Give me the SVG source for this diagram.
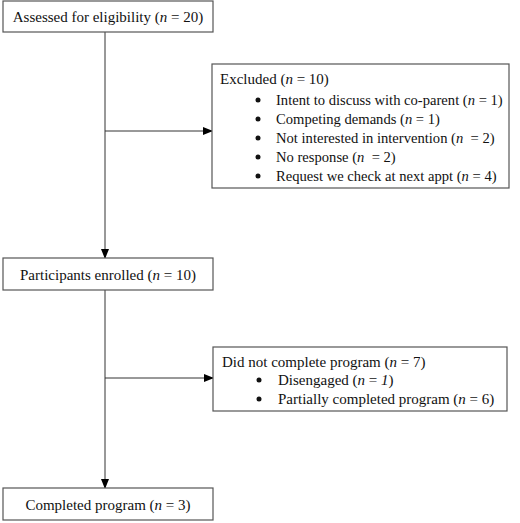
<svg xmlns="http://www.w3.org/2000/svg" width="520" height="523" viewBox="0 0 520 523">
<defs>
<marker id="ah" markerWidth="10" markerHeight="8" refX="9" refY="4" orient="auto" markerUnits="userSpaceOnUse">
<path d="M0,0 L10,4 L0,8 Z" fill="#000"/>
</marker>
<style>
.box{fill:#fff;stroke:#555;stroke-width:1.2}
.t{font-family:"Liberation Serif","Times New Roman",serif;font-size:15px;fill:#111}
.s{font-size:14.6px}
.c{text-anchor:middle}
.ln{stroke:#333;stroke-width:1;fill:none}
.b{fill:#111}
</style>
</defs>
<rect width="520" height="523" fill="#fff"/>
<g id="connectors">
<line class="ln" x1="105" y1="32" x2="105" y2="258" marker-end="url(#ah)"/>
<line class="ln" x1="105" y1="131" x2="212" y2="131" marker-end="url(#ah)"/>
<line class="ln" x1="105" y1="290" x2="105" y2="488" marker-end="url(#ah)"/>
<line class="ln" x1="105" y1="378" x2="213" y2="378" marker-end="url(#ah)"/>
</g>
<g id="assessed">
<rect class="box" x="3" y="1" width="210" height="31"/>
<text class="t c" x="108" y="22">Assessed for eligibility (<tspan font-style="italic">n</tspan> = 20)</text>
</g>
<g id="excluded">
<rect class="box" x="212" y="64" width="297" height="124"/>
<text class="t" x="220" y="84">Excluded (<tspan font-style="italic">n</tspan> = 10)</text>
<circle class="b" cx="258" cy="100" r="2.5"/>
<circle class="b" cx="258" cy="119" r="2.5"/>
<circle class="b" cx="258" cy="138" r="2.5"/>
<circle class="b" cx="258" cy="157" r="2.5"/>
<circle class="b" cx="258" cy="176" r="2.5"/>
<text class="t s" x="276" y="105">Intent to discuss with co-parent (<tspan font-style="italic">n</tspan> = 1)</text>
<text class="t s" x="276" y="124">Competing demands (<tspan font-style="italic">n</tspan> = 1)</text>
<text class="t s" x="276" y="143">Not interested in intervention (<tspan font-style="italic">n</tspan>&#160; = 2)</text>
<text class="t s" x="276" y="162">No response (<tspan font-style="italic">n</tspan>&#160; = 2)</text>
<text class="t s" x="276" y="181">Request we check at next appt (<tspan font-style="italic">n</tspan> = 4)</text>
</g>
<g id="enrolled">
<rect class="box" x="3" y="258" width="210" height="32"/>
<text class="t c" x="108" y="280">Participants enrolled (<tspan font-style="italic">n</tspan> = 10)</text>
</g>
<g id="notcomplete">
<rect class="box" x="213" y="347" width="294" height="64"/>
<text class="t" x="222" y="367">Did not complete program (<tspan font-style="italic">n</tspan> = 7)</text>
<circle class="b" cx="259" cy="380" r="2.5"/>
<circle class="b" cx="259" cy="399" r="2.5"/>
<text class="t" x="278" y="385">Disengaged (<tspan font-style="italic">n</tspan> = <tspan font-style="italic">1</tspan>)</text>
<text class="t" x="278" y="404">Partially completed program (<tspan font-style="italic">n</tspan> = 6)</text>
</g>
<g id="completed">
<rect class="box" x="3" y="488" width="210" height="32"/>
<text class="t c" x="108" y="510">Completed program (<tspan font-style="italic">n</tspan> = 3)</text>
</g>
</svg>
